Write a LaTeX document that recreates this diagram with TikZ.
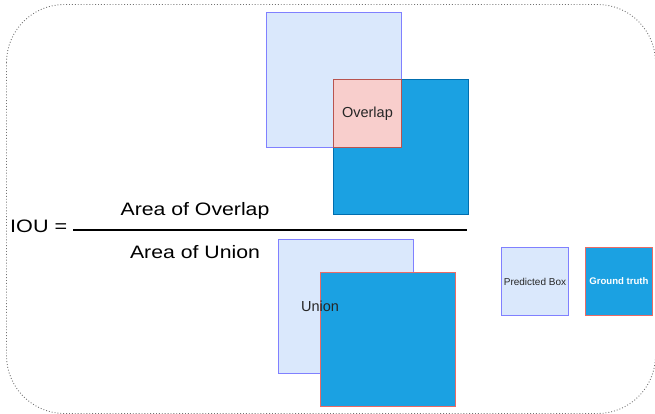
\documentclass[tikz,border=0pt]{standalone}
\usepackage{fontspec}
\setmainfont{Liberation Sans}
\usetikzlibrary{positioning}
\definecolor{predfill}{HTML}{DAE8FC}
\definecolor{predline}{HTML}{8080FF}
\definecolor{gtfill}{HTML}{1BA1E2}
\definecolor{gtline}{HTML}{006EAF}
\definecolor{ovfill}{HTML}{F8CECC}
\definecolor{ovline}{HTML}{B85450}
\definecolor{redline}{HTML}{EA6B66}
\begin{document}
\begin{tikzpicture}[x=1pt,y=-1pt,
  box/.style={inner sep=0pt,anchor=north west,line width=0.9pt},
  predbox/.style={box,fill=predfill,draw=predline},
  gtbox/.style={box,fill=gtfill,draw=gtline},
  formula/.style={inner sep=0pt,font=\fontsize{18}{20}\selectfont},
  lbl/.style={inner sep=0pt,font=\fontsize{14.5}{16}\selectfont,text=black!85}]
\useasboundingbox (0,0) rectangle (655,414);
% dotted frame
\draw[black!55,dotted,line width=0.9pt,rounded corners=58pt] (6.5,4.5) rectangle (655.5,413.5);

% intersection figure
\node[predbox,minimum width=135pt,minimum height=135pt] (pred1) at (266,12) {};
\node[gtbox,minimum width=135pt,minimum height=135pt] (gt1) at (333,79) {};
\node[box,fill=ovfill,draw=ovline,minimum width=68pt,minimum height=68pt] (over) at (333,79) {};
\node[lbl] (overtxt) at (over.center) {Overlap};

% formula
\node[formula,anchor=west] (iou) at (10,226) {\scalebox{1.2}[1]{IOU =}};
\coordinate (fracL) at (73,230);
\coordinate (fracR) at (467,230);
\draw[line width=2.4pt] (fracL) -- (fracR);
\node[formula] (num) at (195,211) {\scalebox{1.18}[1]{Area of Overlap}};
\node[formula] (den) at (195,252) {\scalebox{1.18}[1]{Area of Union}};

% union figure
\node[predbox,minimum width=135pt,minimum height=134pt] (pred2) at (278,239) {};
\node[box,fill=gtfill,draw=redline,minimum width=135pt,minimum height=134pt] (gt2) at (320,272) {};
\node[lbl] (uniontxt) at (320,306) {Union};

% legend
\node[predbox,minimum width=67pt,minimum height=68pt,font=\fontsize{10}{12}\selectfont,text=black!85] (legpred) at (501,247) {Predicted Box};
\node[box,fill=gtfill,draw=redline,minimum width=67pt,minimum height=68pt,text=white,font=\fontsize{9.6}{11}\selectfont\bfseries] (leggt) at (585,247) {Ground truth};
\end{tikzpicture}
\end{document}
